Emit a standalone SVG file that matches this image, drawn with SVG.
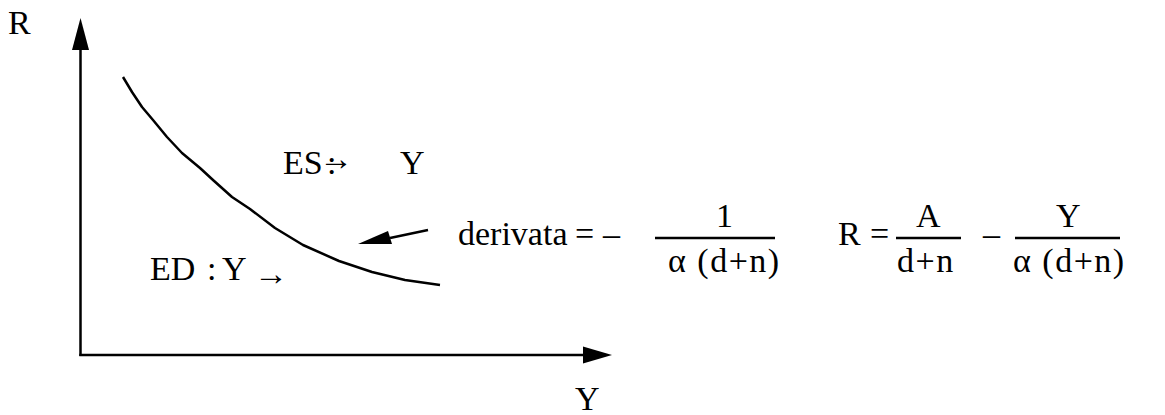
<svg xmlns="http://www.w3.org/2000/svg" width="1165" height="415" viewBox="0 0 1165 415">
<style>
text{font-family:"Liberation Serif","Times New Roman",serif;font-size:34px;fill:#000}
.dn{letter-spacing:1.5px}
.ln{stroke:#000;stroke-width:2.5;fill:none}
.hd{fill:#000;stroke:none}
</style>
<rect width="1165" height="415" fill="#fff"/>
<g id="connectors">
<line class="ln" x1="80.5" y1="356" x2="80.5" y2="46"/>
<polygon class="hd" points="80.5,18 72,50 89,50"/>
<line class="ln" x1="79.3" y1="355" x2="585" y2="355"/>
<polygon class="hd" points="612,355 583,346.5 583,363.5"/>
<polyline class="ln" stroke-linejoin="round" points="123,77 132,92 142,107 153,120 167,137 182,153 200,168 213,180 232,197 250,209 275,228 303,245 339,261 372,272 405,280 440,285"/>
<line class="ln" x1="428" y1="230" x2="390" y2="238"/>
<polygon class="hd" points="358,244 388,231 392,244"/>
</g>
<g id="axis-R"><text x="8" y="34">R</text></g>
<g id="axis-Y"><text x="575" y="410">Y</text></g>
<g id="label-ES">
<text x="283" y="174">ES</text>
<text x="327" y="174">:</text>
<text x="319" y="170">→</text>
<text x="400" y="174">Y</text>
</g>
<g id="label-ED">
<text x="150" y="280">ED</text>
<text x="207" y="280">:</text>
<text x="222" y="280">Y</text>
<text x="254" y="285">→</text>
</g>
<g id="derivata">
<text x="458" y="245">derivata</text>
<text x="575" y="245">=</text>
<text x="603" y="245">–</text>
<line class="ln" x1="655" y1="238" x2="775" y2="238"/>
<text x="716" y="227">1</text>
<text class="dn" x="668" y="272">α (d+n)</text>
</g>
<g id="formula-R">
<text x="838" y="245">R</text>
<text x="870" y="245">=</text>
<line class="ln" x1="896" y1="238" x2="961" y2="238"/>
<text x="916" y="227">A</text>
<text class="dn" x="897" y="272">d+n</text>
<text x="983" y="245">–</text>
<line class="ln" x1="1015" y1="238" x2="1120" y2="238"/>
<text x="1056" y="227">Y</text>
<text class="dn" x="1013" y="272">α (d+n)</text>
</g>
</svg>
